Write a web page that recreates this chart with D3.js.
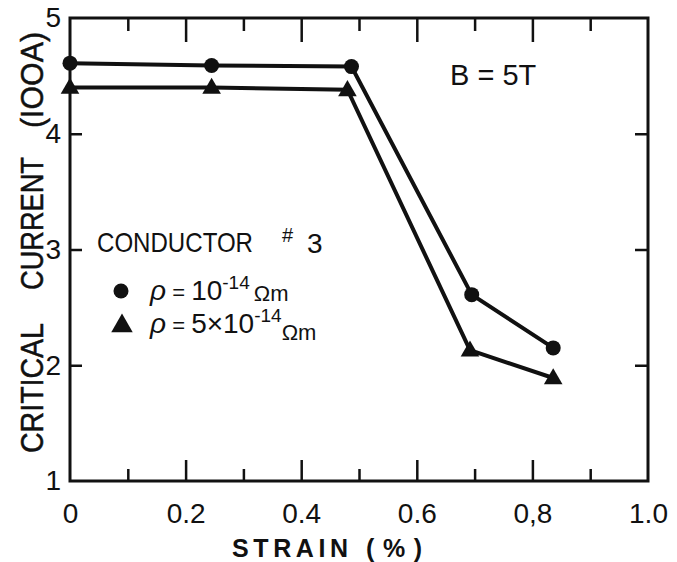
<!DOCTYPE html>
<html>
<head>
<meta charset="utf-8">
<script src="https://cdn.jsdelivr.net/npm/d3@7"></script>
<style>
  body { margin: 0; background: #fff; }
  svg { display: block; font-family: "Liberation Sans", Arial, sans-serif; }
  .tick text { font-size: 28px; fill: #111; }
</style>
</head>
<body>
<div class="chart"></div>
<script>
// data
const strainCircle = [0, 0.245, 0.487, 0.695, 0.836]
const currentCircle = [4.61, 4.59, 4.58, 2.61, 2.15]
const strainTriangle = [0, 0.245, 0.48, 0.692, 0.836]
const currentTriangle = [4.40, 4.40, 4.38, 2.13, 1.89]

const xMajorTicks = [0.2, 0.4, 0.6, 0.8]
const xMinorTicks = [0.1, 0.3, 0.5, 0.7, 0.9]
const xLabelValues = [0, 0.2, 0.4, 0.6, 0.8, 1.0]
const xTickLabels = ["0", "0.2", "0.4", "0.6", "0,8", "1.0"]
const yTicks = [2, 3, 4]
const yLabelValues = [1, 2, 3, 4, 5]
const yTickLabels = ["1", "2", "3", "4", "5"]

const drawChart = () => {
  let dims = {
    width: 677,
    height: 562,
    margin: { top: 18, right: 29, bottom: 81, left: 70 }
  }
  dims.boundedWidth = dims.width - dims.margin.left - dims.margin.right
  dims.boundedHeight = dims.height - dims.margin.top - dims.margin.bottom

  const circles = strainCircle.map((s, i) => ({ strain: s, current: currentCircle[i] }))
  const triangles = strainTriangle.map((s, i) => ({ strain: s, current: currentTriangle[i] }))

  const xScale = d3.scaleLinear()
    .domain([0, 1])
    .range([0, dims.boundedWidth])

  const yScale = d3.scaleLinear()
    .domain([1, 5])
    .range([dims.boundedHeight, 0])

  const lineGenerator = d3.line()
    .x(d => xScale(d.strain))
    .y(d => yScale(d.current))

  const svg = d3.select(".chart")
    .append("svg")
      .attr("width", dims.width)
      .attr("height", dims.height)

  const bounds = svg.append("g")
      .attr("transform", `translate(${dims.margin.left},${dims.margin.top})`)

  const cleanAxis = g => {
    g.select(".domain").remove()
    g.selectAll(".tick line").attr("stroke", "#111").attr("stroke-width", 2.5)
  }

  // ticks, all pointing inwards
  bounds.append("g")
      .attr("transform", `translate(0,${dims.boundedHeight})`)
      .call(d3.axisBottom(xScale).tickValues(xMajorTicks).tickSize(-21).tickFormat(""))
      .call(cleanAxis)
  bounds.append("g")
      .attr("transform", `translate(0,${dims.boundedHeight})`)
      .call(d3.axisBottom(xScale).tickValues(xMinorTicks).tickSize(-12).tickFormat(""))
      .call(cleanAxis)
  bounds.append("g")
      .call(d3.axisTop(xScale).tickValues(xMajorTicks).tickSize(-24).tickFormat(""))
      .call(cleanAxis)
  bounds.append("g")
      .call(d3.axisTop(xScale).tickValues(xMinorTicks).tickSize(-13).tickFormat(""))
      .call(cleanAxis)
  bounds.append("g")
      .call(d3.axisLeft(yScale).tickValues(yTicks).tickSize(-12).tickFormat(""))
      .call(cleanAxis)
  bounds.append("g")
      .attr("transform", `translate(${dims.boundedWidth},0)`)
      .call(d3.axisRight(yScale).tickValues(yTicks).tickSize(-13).tickFormat(""))
      .call(cleanAxis)

  // tick labels
  bounds.append("g")
      .attr("transform", `translate(0,${dims.boundedHeight})`)
      .call(d3.axisBottom(xScale).tickValues(xLabelValues).tickSize(0).tickPadding(22)
        .tickFormat((d, i) => xTickLabels[i]))
      .call(g => g.select(".domain").remove())
      .call(g => g.selectAll(".tick text").attr("font-family", null).attr("font-size", null))
  bounds.append("g")
      .call(d3.axisLeft(yScale).tickValues(yLabelValues).tickSize(0).tickPadding(9)
        .tickFormat((d, i) => yTickLabels[i]))
      .call(g => g.select(".domain").remove())
      .call(g => g.selectAll(".tick text").attr("font-family", null).attr("font-size", null))

  // frame
  bounds.append("rect")
      .attr("width", dims.boundedWidth)
      .attr("height", dims.boundedHeight)
      .attr("fill", "none")
      .attr("stroke", "#111")
      .attr("stroke-width", 3)

  // series
  bounds.append("path")
      .attr("d", lineGenerator(circles))
      .attr("fill", "none")
      .attr("stroke", "#111")
      .attr("stroke-width", 4)
  bounds.append("path")
      .attr("d", lineGenerator(triangles))
      .attr("fill", "none")
      .attr("stroke", "#111")
      .attr("stroke-width", 4)

  bounds.selectAll(".pt-circle")
    .data(circles)
    .join("circle")
      .attr("class", "pt-circle")
      .attr("cx", d => xScale(d.strain))
      .attr("cy", d => yScale(d.current))
      .attr("r", 7.5)
      .attr("fill", "#111")

  const triangleSymbol = d3.symbol().type(d3.symbolTriangle).size(150)
  bounds.selectAll(".pt-triangle")
    .data(triangles)
    .join("path")
      .attr("class", "pt-triangle")
      .attr("transform", d => `translate(${xScale(d.strain)},${yScale(d.current) + 1})`)
      .attr("d", triangleSymbol)
      .attr("fill", "#111")

  // axis titles
  const yTitle = svg.append("g")
      .attr("transform", "translate(43,0) rotate(-90)")
      .attr("fill", "#111")
      .attr("font-size", 31)
      .attr("stroke", "#111")
      .attr("stroke-width", 0.5)
  yTitle.append("text").attr("x", -453).attr("textLength", 130)
      .attr("lengthAdjust", "spacingAndGlyphs").text("CRITICAL")
  yTitle.append("text").attr("x", -290).attr("textLength", 133)
      .attr("lengthAdjust", "spacingAndGlyphs").text("CURRENT")
  yTitle.append("text").attr("x", -128).attr("textLength", 96)
      .attr("lengthAdjust", "spacingAndGlyphs").text("(IOOA)")

  const xTitle = svg.append("g")
      .attr("font-size", 25)
      .attr("font-weight", "bold")
      .attr("fill", "#111")
  xTitle.append("text").attr("x", 232).attr("y", 557).attr("textLength", 116).text("STRAIN")
  xTitle.append("text").attr("x", 366).attr("y", 557).attr("textLength", 56).text("(%)")

  // annotations
  svg.append("text")
      .attr("x", 450)
      .attr("y", 85)
      .attr("font-size", 29)
      .attr("fill", "#111")
      .text("B = 5T")

  svg.append("text")
      .attr("x", 97)
      .attr("y", 252)
      .attr("font-size", 28)
      .attr("textLength", 156)
      .attr("lengthAdjust", "spacingAndGlyphs")
      .attr("fill", "#111")
      .text("CONDUCTOR")
  svg.append("text")
      .attr("x", 282)
      .attr("y", 242)
      .attr("font-size", 20)
      .attr("fill", "#111")
      .text("#")
  svg.append("text")
      .attr("x", 307)
      .attr("y", 253)
      .attr("font-size", 28)
      .attr("fill", "#111")
      .text("3")

  // legend
  svg.append("circle")
      .attr("cx", 121)
      .attr("cy", 291)
      .attr("r", 7.5)
      .attr("fill", "#111")
  svg.append("path")
      .attr("transform", "translate(122,326)")
      .attr("d", d3.symbol().type(d3.symbolTriangle).size(200))
      .attr("fill", "#111")

  const legend1 = svg.append("text")
      .attr("x", 150)
      .attr("y", 300)
      .attr("font-size", 28)
      .attr("fill", "#111")
  legend1.append("tspan").attr("font-style", "italic").text("ρ")
  legend1.append("tspan").attr("font-size", 22).text(" = ")
  legend1.append("tspan").text("10")
  legend1.append("tspan").attr("font-size", 19).attr("dy", -11).text("-14")
  legend1.append("tspan").attr("font-size", 22).attr("dy", 12).attr("dx", 4).text("Ωm")

  const legend2 = svg.append("text")
      .attr("x", 150)
      .attr("y", 333)
      .attr("font-size", 28)
      .attr("fill", "#111")
  legend2.append("tspan").attr("font-style", "italic").text("ρ")
  legend2.append("tspan").attr("font-size", 22).text(" = ")
  legend2.append("tspan").text("5×10")
  legend2.append("tspan").attr("font-size", 19).attr("dy", -11).text("-14")
  legend2.append("tspan").attr("font-size", 22).attr("dy", 18).text("Ωm")
}
drawChart()
</script>
</body>
</html>
